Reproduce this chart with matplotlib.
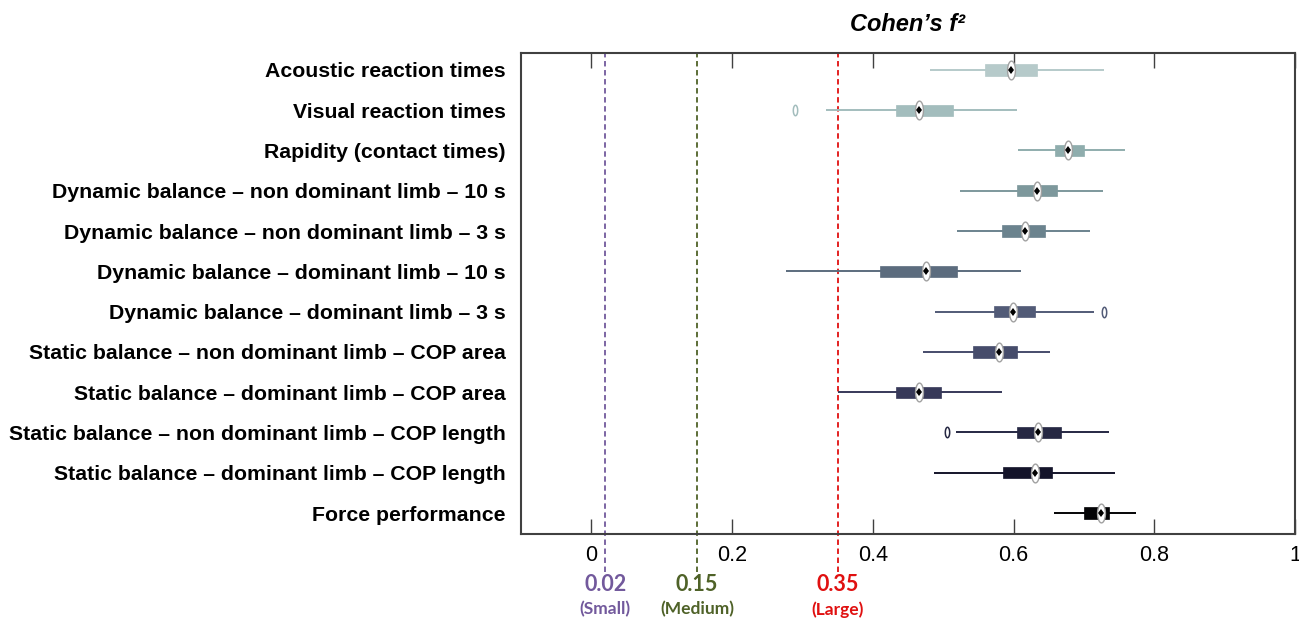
import numpy as np
import matplotlib
matplotlib.use("Agg")
import matplotlib.pyplot as plt
from matplotlib.path import Path

labels = [
    "Acoustic reaction times",
    "Visual reaction times",
    "Rapidity (contact times)",
    "Dynamic balance \u2013 non dominant limb \u2013 10 s",
    "Dynamic balance \u2013 non dominant limb \u2013 3 s",
    "Dynamic balance \u2013 dominant limb \u2013 10 s",
    "Dynamic balance \u2013 dominant limb \u2013 3 s",
    "Static balance \u2013 non dominant limb \u2013 COP area",
    "Static balance \u2013 dominant limb \u2013 COP area",
    "Static balance \u2013 non dominant limb \u2013 COP length",
    "Static balance \u2013 dominant limb \u2013 COP length",
    "Force performance",
]
whislo = [0.481, 0.333, 0.606, 0.524, 0.519, 0.276, 0.489, 0.471, 0.350, 0.518, 0.487, 0.658]
q1     = [0.560, 0.433, 0.659, 0.605, 0.584, 0.410, 0.572, 0.543, 0.433, 0.605, 0.585, 0.700]
med    = [0.597, 0.466, 0.677, 0.633, 0.616, 0.475, 0.599, 0.580, 0.465, 0.635, 0.631, 0.724]
q3     = [0.634, 0.514, 0.700, 0.662, 0.644, 0.519, 0.631, 0.605, 0.497, 0.667, 0.655, 0.735]
whishi = [0.729, 0.605, 0.759, 0.727, 0.709, 0.611, 0.715, 0.652, 0.584, 0.735, 0.744, 0.774]
outlier_rows = [1, 6, 9]
outlier_vals = [0.290, 0.729, 0.506]

box_colors = ["#b6caca", "#a3bdbd", "#8fadad", "#7d989c", "#6b838e", "#5c6c7e",
              "#525b77", "#464c6b", "#373959", "#262843", "#14142a", "#040406"]

thresholds = [0.02, 0.15, 0.35]
thr_labels = ["0.02", "0.15", "0.35"]
thr_names = ["(Small)", "(Medium)", "(Large)"]
thr_colors = ["#72599c", "#4f6228", "#e01010"]

xticks = [0, 0.2, 0.4, 0.6, 0.8, 1]
xticklabels = ["0", "0.2", "0.4", "0.6", "0.8", "1"]

fig = plt.figure(figsize=(12.99, 6.21), dpi=100)
ax = fig.add_axes([521/1299, 1-534/621, (1295-521)/1299, (534-53)/621])

n = len(labels)
ypos = np.arange(1, n + 1)

# ellipse marker
t = np.linspace(0, 2*np.pi, 60)
ell = Path(np.column_stack([0.42*np.cos(t), np.sin(t)]), closed=True)

# threshold lines
for x, c in zip(thresholds, thr_colors):
    ax.axvline(x, ymin=-0.08, ymax=1.0, color=c, lw=1.3, ls=(0, (3, 2)), clip_on=False, zorder=1)

for i in range(n):
    y = ypos[i]
    c = box_colors[i]
    ax.hlines(y, whislo[i], whishi[i], color=c, lw=1.4, zorder=2)
    ax.barh(y, q3[i]-q1[i], left=q1[i], height=0.28, color=c, edgecolor=c, lw=0.5, zorder=3)
    ax.plot(med[i], y, marker=ell, markersize=13.5, markerfacecolor="white",
            markeredgecolor="#a0a0a0", markeredgewidth=1.0, zorder=4, ls="none")
    ax.plot(med[i], y, marker="d", markersize=4.5, color="black", markeredgewidth=0, zorder=5, ls="none")

for r, v in zip(outlier_rows, outlier_vals):
    ax.plot(v, ypos[r], marker=ell, markersize=7.5, markerfacecolor="white",
            markeredgecolor=box_colors[r], markeredgewidth=1.1, ls="none", zorder=4)

ax.set_xlim(-0.1, 1.0)
ax.set_ylim(12.52, 0.58)
ax.set_yticks(ypos)
ax.set_yticklabels(labels, fontfamily="Liberation Sans", fontweight="bold", fontsize=15.3)
ax.tick_params(axis="y", length=0, pad=11)
ax.set_xticks(xticks)
ax.set_xticklabels(xticklabels, fontfamily="Liberation Sans", fontsize=15.5)
ax.tick_params(axis="x", direction="in", length=11, width=1.0, color="#404040",
               top=True, bottom=True, pad=8)
for s in ax.spines.values():
    s.set_color("#404040")
    s.set_linewidth(1.5)

ax.set_title("Cohen\u2019s f\u00b2", fontfamily="Liberation Sans", fontweight="bold",
             style="italic", fontsize=17, pad=16)

trans = ax.get_xaxis_transform()
for x, lab, nm, c in zip(thresholds, thr_labels, thr_names, thr_colors):
    ax.text(x, -0.106, lab, transform=trans, ha="center", va="center", color=c,
            fontfamily="Lato", fontweight="bold", fontsize=15.5)
    ax.text(x, -0.157, nm, transform=trans, ha="center", va="center", color=c,
            fontfamily="Lato", fontweight="bold", fontsize=12.5)

fig.savefig("out.png", dpi=100)
